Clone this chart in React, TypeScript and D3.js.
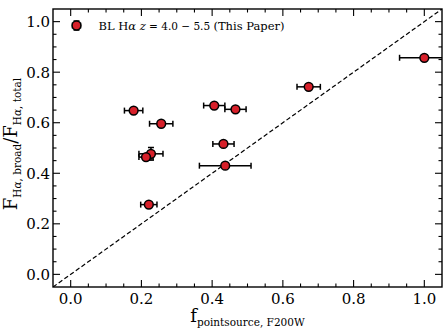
import React, { useEffect, useRef } from 'react';
import * as d3 from 'd3';

// ==================== DATA ====================
const xVals = [1.0, 0.673, 0.178, 0.256, 0.406, 0.466, 0.432, 0.437, 0.227, 0.213, 0.221];
const yVals = [0.857, 0.742, 0.648, 0.596, 0.668, 0.653, 0.516, 0.430, 0.477, 0.464, 0.276];
const xErrs = [0.07, 0.033, 0.026, 0.033, 0.030, 0.030, 0.030, 0.073, 0.034, 0.02, 0.023];
const yErrs = [0.008, 0.008, 0.008, 0.008, 0.008, 0.008, 0.008, 0.01, 0.025, 0.008, 0.008];
const majorTicks = [0, 0.2, 0.4, 0.6, 0.8, 1.0];
const minorTicks = d3.range(-0.05, 1.06, 0.05);

const W = 447, H = 334;
const M = { left: 53, right: 5, top: 9, bottom: 47 };
const FONT = "'DejaVu Serif', serif";
const RED = '#d7202a';

const App = () => {
  const svgRef = useRef<SVGSVGElement | null>(null);

  useEffect(() => {
    const svg = d3.select(svgRef.current);
    svg.selectAll('*').remove();

    const x = d3.scaleLinear().domain([-0.05, 1.05]).range([M.left, W - M.right]);
    const y = d3.scaleLinear().domain([-0.05, 1.05]).range([H - M.bottom, M.top]);
    const x0 = M.left, x1 = W - M.right, y0 = H - M.bottom, y1 = M.top;

    const clip = svg.append('defs').append('clipPath').attr('id', 'plot-clip');
    clip.append('rect').attr('x', x0).attr('y', y1).attr('width', x1 - x0).attr('height', y0 - y1);

    const g = svg.append('g').attr('clip-path', 'url(#plot-clip)');

    // 1:1 line
    g.append('line')
      .attr('x1', x(-0.05)).attr('y1', y(-0.05))
      .attr('x2', x(1.05)).attr('y2', y(1.05))
      .attr('stroke', '#000').attr('stroke-width', 1.2)
      .attr('stroke-dasharray', '4.5,2.5');

    const pts = xVals.map((v, i) => ({ x: v, y: yVals[i], xe: xErrs[i], ye: yErrs[i] }));

    // error bars
    const eb = g.selectAll('.eb').data(pts).enter().append('g').attr('class', 'eb')
      .attr('stroke', '#000').attr('stroke-width', 1.5);
    eb.append('line')
      .attr('x1', d => x(d.x - d.xe)).attr('x2', d => x(d.x + d.xe))
      .attr('y1', d => y(d.y)).attr('y2', d => y(d.y));
    eb.append('line')
      .attr('x1', d => x(d.x - d.xe)).attr('x2', d => x(d.x - d.xe))
      .attr('y1', d => y(d.y) - 3).attr('y2', d => y(d.y) + 3);
    eb.append('line')
      .attr('x1', d => x(d.x + d.xe)).attr('x2', d => x(d.x + d.xe))
      .attr('y1', d => y(d.y) - 3).attr('y2', d => y(d.y) + 3);
    eb.append('line')
      .attr('x1', d => x(d.x)).attr('x2', d => x(d.x))
      .attr('y1', d => y(d.y - d.ye)).attr('y2', d => y(d.y + d.ye));
    eb.append('line')
      .attr('x1', d => x(d.x) - 3).attr('x2', d => x(d.x) + 3)
      .attr('y1', d => y(d.y + d.ye)).attr('y2', d => y(d.y + d.ye));
    eb.append('line')
      .attr('x1', d => x(d.x) - 3).attr('x2', d => x(d.x) + 3)
      .attr('y1', d => y(d.y - d.ye)).attr('y2', d => y(d.y - d.ye));

    g.selectAll('.pt').data(pts).enter().append('circle')
      .attr('cx', d => x(d.x)).attr('cy', d => y(d.y)).attr('r', 4.4)
      .attr('fill', RED).attr('stroke', '#000').attr('stroke-width', 1.5);

    // frame
    svg.append('rect').attr('x', x0).attr('y', y1).attr('width', x1 - x0).attr('height', y0 - y1)
      .attr('fill', 'none').attr('stroke', '#000').attr('stroke-width', 1.4);

    // ticks (inward, all four sides)
    const tk = svg.append('g').attr('stroke', '#000').attr('stroke-width', 1.1);
    minorTicks.forEach(t => {
      const isMajor = majorTicks.some(m => Math.abs(m - t) < 1e-6);
      const len = isMajor ? 7 : 3.5;
      const px = x(t), py = y(t);
      if (px > x0 + 0.5 && px < x1 - 0.5) {
        tk.append('line').attr('x1', px).attr('x2', px).attr('y1', y0).attr('y2', y0 - len);
        tk.append('line').attr('x1', px).attr('x2', px).attr('y1', y1).attr('y2', y1 + len);
      }
      if (py > y1 + 0.5 && py < y0 - 0.5) {
        tk.append('line').attr('y1', py).attr('y2', py).attr('x1', x0).attr('x2', x0 + len);
        tk.append('line').attr('y1', py).attr('y2', py).attr('x1', x1).attr('x2', x1 - len);
      }
    });

    const fmt = d3.format('.1f');
    svg.selectAll('.xl').data(majorTicks).enter().append('text')
      .attr('x', d => x(d)).attr('y', y0 + 17).attr('text-anchor', 'middle')
      .attr('font-family', FONT).attr('font-size', 15).text(d => fmt(d));
    svg.selectAll('.yl').data(majorTicks).enter().append('text')
      .attr('x', x0 - 3).attr('y', d => y(d) + 5.5).attr('text-anchor', 'end')
      .attr('font-family', FONT).attr('font-size', 15).text(d => fmt(d));

    // x label
    const xl = svg.append('text').attr('x', (x0 + x1) / 2).attr('y', 322)
      .attr('text-anchor', 'middle').attr('font-family', FONT);
    xl.append('tspan').attr('font-size', 18).text('f');
    xl.append('tspan').attr('font-size', 10.5).attr('dy', 3.5).text('pointsource, F200W');

    // y label
    const yl = svg.append('text')
      .attr('transform', `translate(17,144) rotate(-90)`)
      .attr('text-anchor', 'middle').attr('font-family', FONT);
    yl.append('tspan').attr('font-size', 18).text('F');
    yl.append('tspan').attr('font-size', 10.5).attr('dy', 3.5).text('H');
    yl.append('tspan').attr('font-size', 10.5).attr('font-style', 'italic').text('α');
    yl.append('tspan').attr('font-size', 10.5).text(', broad');
    yl.append('tspan').attr('font-size', 18).attr('dy', -3.5).text('/F');
    yl.append('tspan').attr('font-size', 10.5).attr('dy', 3.5).text('H');
    yl.append('tspan').attr('font-size', 10.5).attr('font-style', 'italic').text('α');
    yl.append('tspan').attr('font-size', 10.5).text(', total');

    // legend
    const lx = 76.5, ly = 25.5;
    const lg = svg.append('g').attr('stroke', '#000').attr('stroke-width', 1.5);
    lg.append('line').attr('x1', lx - 4).attr('x2', lx + 4).attr('y1', ly).attr('y2', ly);
    lg.append('line').attr('x1', lx).attr('x2', lx).attr('y1', ly - 4.5).attr('y2', ly + 4.5);
    lg.append('line').attr('x1', lx - 4).attr('x2', lx - 4).attr('y1', ly - 3).attr('y2', ly + 3);
    lg.append('line').attr('x1', lx + 4).attr('x2', lx + 4).attr('y1', ly - 3).attr('y2', ly + 3);
    lg.append('line').attr('x1', lx - 3).attr('x2', lx + 3).attr('y1', ly - 4.5).attr('y2', ly - 4.5);
    lg.append('line').attr('x1', lx - 3).attr('x2', lx + 3).attr('y1', ly + 4.5).attr('y2', ly + 4.5);
    lg.append('circle').attr('cx', lx).attr('cy', ly).attr('r', 4.4)
      .attr('fill', RED).attr('stroke', '#000').attr('stroke-width', 1.5);

    const lt = svg.append('text').attr('x', 98.5).attr('y', 30)
      .attr('font-family', FONT).attr('font-size', 11.5);
    lt.append('tspan').text('BL H');
    lt.append('tspan').attr('font-style', 'italic').text('α ');
    lt.append('tspan').attr('font-style', 'italic').text('z');
    lt.append('tspan').attr('font-size', 10.5).text(' = 4.0 − 5.5 ');
    lt.append('tspan').text('(This Paper)');
  }, []);

  return (
    <svg ref={svgRef} width={W} height={H}
      style={{ position: 'absolute', left: 0, top: 0, background: '#fff' }} />
  );
};

export default App;
